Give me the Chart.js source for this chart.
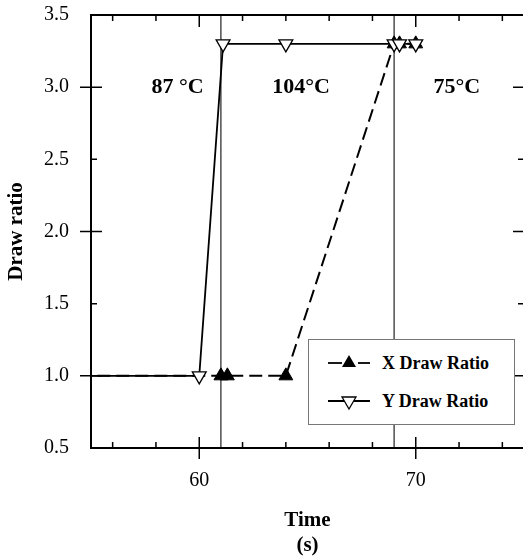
<!DOCTYPE html>
<html>
<head>
<meta charset="utf-8">
<script src="https://cdn.jsdelivr.net/npm/chart.js@4/dist/chart.umd.min.js"></script>
<style>
  html, body { margin: 0; padding: 0; background: #fff; overflow: hidden; width: 523px; height: 558px; }
  #wrap { position: relative; width: 545px; height: 558px; }
  canvas { position: absolute; left: 0; top: 0; }
  #legend {
    position: absolute; left: 308px; top: 339px; width: 205px; height: 84px;
    border: 1px solid #777; background: #fff;
    font-family: "Liberation Serif", "Times New Roman", serif; font-weight: bold; font-size: 18px; color: #000;
  }
  .item { position: absolute; left: 19px; height: 20px; display: flex; align-items: center; }
  .item svg { margin-right: 10px; }
</style>
</head>
<body>
<div id="wrap">
  <canvas id="c" width="545" height="558"></canvas>
  <div id="legend">
    <div class="item" style="top:13px;">
      <svg width="44" height="20"><line x1="0" y1="10" x2="14" y2="10" stroke="#000" stroke-width="1.8"/><line x1="30" y1="10" x2="42" y2="10" stroke="#000" stroke-width="1.8"/><polygon points="21,2 28,14 14,14" fill="#000"/></svg><span>X Draw Ratio</span>
    </div>
    <div class="item" style="top:51px;">
      <svg width="44" height="20"><line x1="0" y1="10" x2="42" y2="10" stroke="#000" stroke-width="1.8"/><polygon points="14,6 28,6 21,18" fill="#fff" stroke="#000" stroke-width="1.3"/></svg><span>Y Draw Ratio</span>
    </div>
  </div>
</div>
<script>
// ---- data ----
const xDrawTime  = [0, 61.0, 61.3, 64, 69, 69.25, 70];
const xDrawRatio = [1.0, 1.0, 1.0, 1.0, 3.3, 3.3, 3.3];
const yDrawTime  = [0, 60, 61.1, 64, 69, 69.25, 70];
const yDrawRatio = [1.0, 1.0, 3.3, 3.3, 3.3, 3.3, 3.3];
const phaseBoundaries = [61, 69];
const phaseLabels = ['87 °C', '104°C', '75°C'];
const phaseLabelTimes = [59, 64.7, 71.9];
const phaseLabelRatio = 3.0;
const xTickLabels = [60, 70];
const xMinorTicks = [56, 58, 62, 64, 66, 68, 72, 74];
const yMajorTicks = [1.0, 2.0, 3.0];
const yMinorTicks = [0.5, 1.5, 2.5, 3.5];

const FONT = '"Liberation Serif", "Times New Roman", serif';
const pts = (xs, ys) => xs.map((x, i) => ({ x: x, y: ys[i] }));

const refSets = phaseBoundaries.map(t => ({
  label: 'ref', data: [{ x: t, y: 0.5 }, { x: t, y: 3.5 }],
  borderColor: '#222', borderWidth: 1.2, pointRadius: 0, order: 5
}));

const decor = {
  id: 'decor',
  afterDatasetsDraw(chart) {
    const { ctx, chartArea: a, scales: { x, y } } = chart;
    ctx.save();
    ctx.strokeStyle = '#000';
    ctx.lineWidth = 2;
    ctx.strokeRect(a.left, a.top, a.right - a.left, a.bottom - a.top);
    ctx.lineWidth = 1.5;
    ctx.beginPath();
    xMinorTicks.forEach(v => {
      const px = x.getPixelForValue(v);
      ctx.moveTo(px, a.bottom); ctx.lineTo(px, a.bottom - 6);
      ctx.moveTo(px, a.top); ctx.lineTo(px, a.top + 6);
    });
    xTickLabels.forEach(v => {
      const px = x.getPixelForValue(v);
      ctx.moveTo(px, a.bottom + 11); ctx.lineTo(px, a.bottom - 11);
      ctx.moveTo(px, a.top); ctx.lineTo(px, a.top + 12);
    });
    yMinorTicks.forEach(v => {
      const py = y.getPixelForValue(v);
      ctx.moveTo(a.left, py); ctx.lineTo(a.left + 6, py);
      ctx.moveTo(a.right, py); ctx.lineTo(a.right - 6, py);
    });
    yMajorTicks.forEach(v => {
      const py = y.getPixelForValue(v);
      ctx.moveTo(a.left - 11, py); ctx.lineTo(a.left + 11, py);
      ctx.moveTo(a.right, py); ctx.lineTo(a.right - 11, py);
    });
    ctx.stroke();
    ctx.fillStyle = '#000';
    ctx.font = 'bold 22px ' + FONT;
    ctx.textAlign = 'center';
    ctx.textBaseline = 'middle';
    phaseLabels.forEach((t, i) => {
      ctx.fillText(t, x.getPixelForValue(phaseLabelTimes[i]), y.getPixelForValue(phaseLabelRatio));
    });
    ctx.restore();
  }
};

new Chart(document.getElementById('c'), {
  type: 'line',
  data: {
    datasets: [
      {
        label: 'Y Draw Ratio', data: pts(yDrawTime, yDrawRatio),
        borderColor: '#000', borderWidth: 1.8,
        pointStyle: 'triangle', pointRotation: 180, pointRadius: 8,
        pointBackgroundColor: '#fff', pointBorderColor: '#000', pointBorderWidth: 1.3,
        order: 0
      },
      {
        label: 'X Draw Ratio', data: pts(xDrawTime, xDrawRatio),
        borderColor: '#000', borderWidth: 2, borderDash: [13, 6],
        pointStyle: 'triangle', pointRadius: 8,
        pointBackgroundColor: '#000', pointBorderColor: '#000', pointBorderWidth: 1,
        order: 1
      },
      ...refSets
    ]
  },
  options: {
    responsive: false,
    animation: false,
    devicePixelRatio: 1,
    layout: { padding: { left: 0, top: 15, right: 21, bottom: 0 } },
    plugins: { legend: { display: false }, tooltip: { enabled: false } },
    scales: {
      x: {
        type: 'linear', min: 55, max: 75,
        grid: { display: false, drawTicks: false },
        border: { display: false },
        afterBuildTicks: s => { s.ticks = xTickLabels.map(v => ({ value: v })); },
        afterFit: s => { s.height = 110; s.paddingLeft = 0; s.paddingRight = 0; },
        ticks: { color: '#000', font: { family: FONT, size: 20 }, padding: 21, maxRotation: 0 },
        title: { display: true, text: ['Time', '(s)'], color: '#000',
                 font: { family: FONT, size: 21, weight: 'bold' }, padding: { top: 0, bottom: 0 } }
      },
      y: {
        type: 'linear', min: 0.5, max: 3.5,
        grid: { display: false, drawTicks: false },
        border: { display: false },
        afterFit: s => { s.width = 91; s.paddingTop = 0; s.paddingBottom = 0; },
        ticks: { stepSize: 0.5, color: '#000', font: { family: FONT, size: 20 }, padding: 22,
                 callback: v => Number(v).toFixed(1) },
        title: { display: true, text: 'Draw ratio', color: '#000',
                 font: { family: FONT, size: 21, weight: 'bold' }, padding: { top: 4, bottom: 0 } }
      }
    }
  },
  plugins: [decor]
});
</script>
</body>
</html>
